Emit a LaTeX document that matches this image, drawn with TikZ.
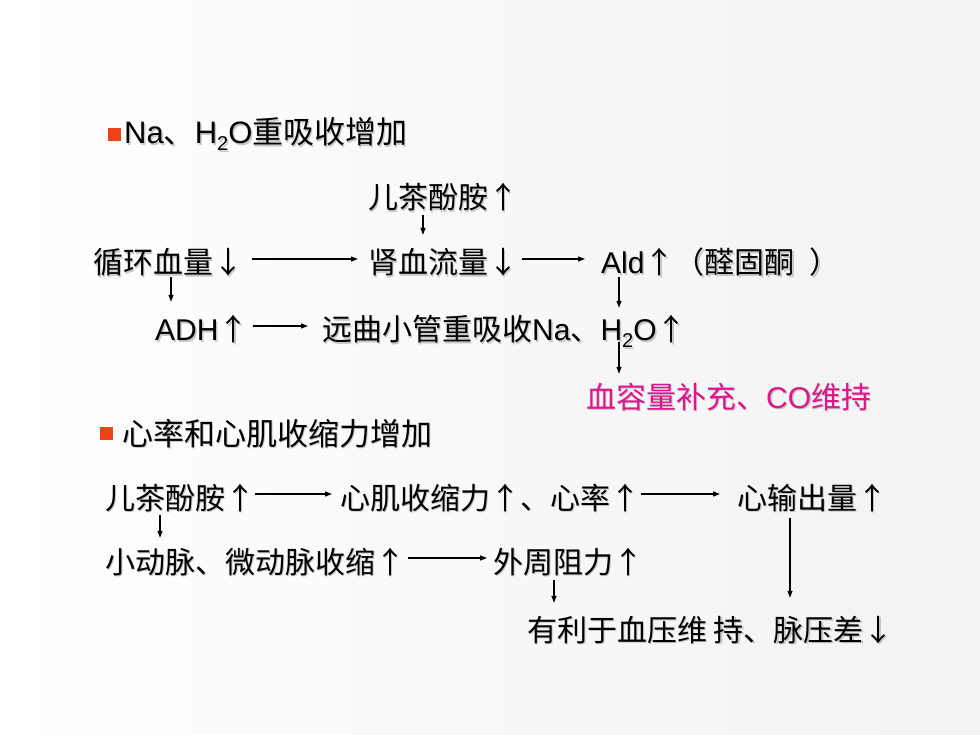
\documentclass[tikz,border=0pt]{standalone}
\usepackage{fontspec}
\setmainfont{Noto Sans CJK SC}
\newfontfamily\lat{Liberation Sans}
\usetikzlibrary{arrows.meta}
\definecolor{bulletred}{RGB}{240,66,24}
\definecolor{notepink}{RGB}{222,22,140}
\newcommand\subtwo{\raisebox{-7pt}{\fontsize{20}{20}\selectfont 2}}
\newcommand\shadowtext[1]{\rlap{\kern1.5pt\raisebox{-1.5pt}{\color{black!22}#1}}#1}

\begin{document}
\begin{tikzpicture}[x=1pt, y=-1pt,
  txt/.style={anchor=base west, inner sep=0pt, text height=30pt, text depth=0pt, font=\fontsize{30}{36}\selectfont},
  head/.style={txt, font=\fontsize{31}{37}\selectfont},
  bullet/.style={fill=bulletred, minimum size=13pt, inner sep=0pt},
  link/.style={-{Triangle[length=7pt,width=5pt]}, line width=1.2pt}]

\shade[left color=white, right color=black!5] (0,0) rectangle (980,735);

% Na, H2O
\node[bullet] (sq1) at (114.5,135) {};
\node[head] (h1) at (124,144) {\shadowtext{{\lat Na}、{\lat H\subtwo O}重吸收增加}};

\node[txt] (cat1) at (368,209) {\shadowtext{儿茶酚胺↑}};
\node[txt] (circ) at (93,274) {\shadowtext{循环血量↓}};
\node[txt] (renal) at (368,274) {\shadowtext{肾血流量↓}};
\node[txt] (ald) at (601,274) {\shadowtext{{\lat Ald}↑（醛固酮\hspace{0.5em}）}};
\node[txt] (adh) at (155,341) {\shadowtext{{\lat ADH}↑}};
\node[txt] (distal) at (322,341) {\shadowtext{远曲小管重吸收{\lat Na}、{\lat H\subtwo O}↑}};
\node[txt, text=notepink] (volume) at (586,408) {\shadowtext{血容量补充、{\lat CO}维持}};

\draw[link, shorten <=6pt, shorten >=9pt] ([xshift=55pt]cat1.south west) -- ([xshift=55pt]renal.north west);
\draw[link, shorten <=9pt, shorten >=10pt] (circ.east) -- (renal.west);
\draw[link, shorten <=4pt, shorten >=16pt] (renal.east) -- (ald.west);
\draw[link, shorten <=3pt, shorten >=9pt] ([xshift=78pt]circ.south west) -- ([xshift=16pt]adh.north west);
\draw[link, shorten <=3pt, shorten >=3pt] ([xshift=18pt]ald.south west) -- ([xshift=297pt]distal.north west);
\draw[link, shorten <=4pt, shorten >=14pt] (adh.east) -- (distal.west);
\draw[link, shorten <=1pt, shorten >=4pt] ([xshift=297pt]distal.south west) -- ([xshift=33pt]volume.north west);

% heart rate and contractility
\node[bullet] (sq2) at (106.5,433.5) {};
\node[head] (h2) at (122,445) {\shadowtext{心率和心肌收缩力增加}};

\node[txt] (cat2) at (105,509) {\shadowtext{儿茶酚胺↑}};
\node[txt] (force) at (340,509) {\shadowtext{心肌收缩力↑、心率↑}};
\node[txt] (output) at (737,509) {\shadowtext{心输出量↑}};
\node[txt] (arter) at (105,573) {\shadowtext{小动脉、微动脉收缩↑}};
\node[txt] (resist) at (493,573) {\shadowtext{外周阻力↑}};
\node[txt] (bp) at (527,641) {\shadowtext{有利于血压维 持、脉压差↓}};

\draw[link, shorten >=8pt] (cat2.east) -- (force.west);
\draw[link, shorten <=1pt, shorten >=17pt] (force.east) -- (output.west);
\draw[link, shorten <=6pt, shorten >=5pt] ([xshift=55pt]cat2.south west) -- ([xshift=55pt]arter.north west);
\draw[link, shorten <=3pt, shorten >=6pt] (arter.east) -- (resist.west);
\draw[link, shorten <=7pt, shorten >=8pt] ([xshift=61pt]resist.south west) -- ([xshift=27pt]bp.north west);
\draw[link, shorten <=9pt, shorten >=13pt] ([xshift=53pt]output.south west) -- ([xshift=263pt]bp.north west);

\end{tikzpicture}
\end{document}
